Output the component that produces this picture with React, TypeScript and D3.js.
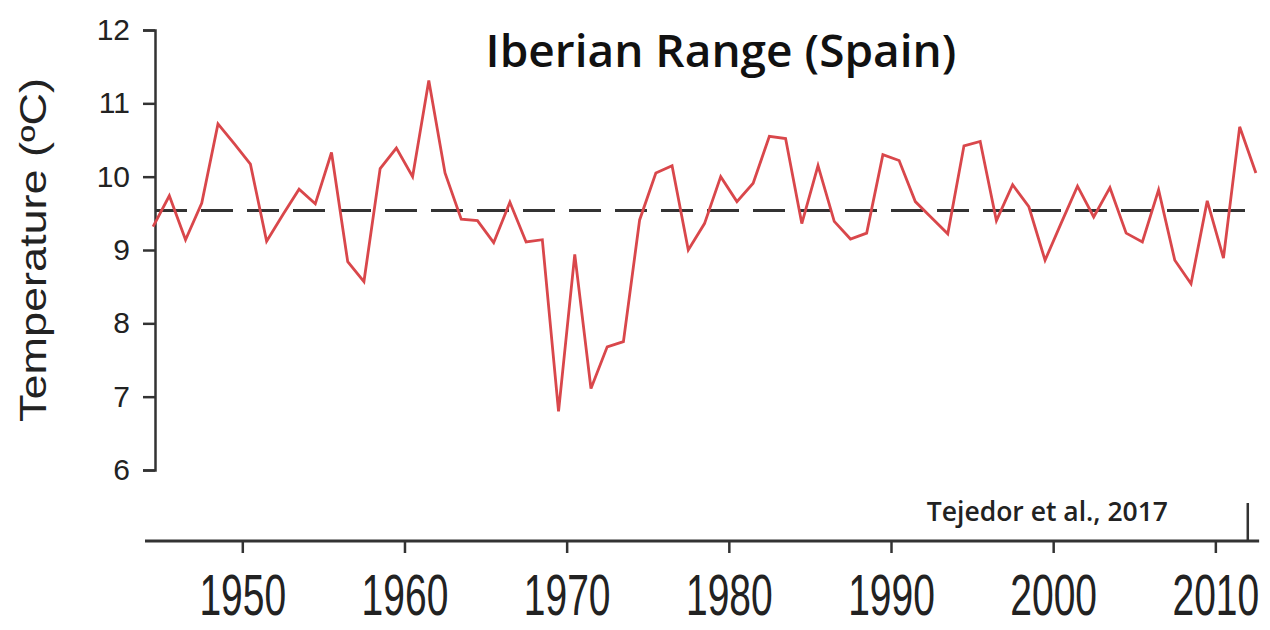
import React, { useEffect, useRef } from "react";
import * as d3 from "d3";

// annual mean temperature, Iberian Range
const years = d3.range(1944, 2013);
const temps = [
  9.32, 9.74, 9.14, 9.64, 10.72, 10.45, 10.17, 9.12, 9.48, 9.83, 9.63, 10.33,
  8.84, 8.57, 10.11, 10.39, 10.0, 11.31, 10.05, 9.42, 9.4, 9.1, 9.65, 9.11,
  9.14, 6.8, 8.94, 7.11, 7.68, 7.75, 9.41, 10.05, 10.15, 9.0, 9.36, 10.0,
  9.66, 9.91, 10.55, 10.52, 9.36, 10.15, 9.39, 9.15, 9.23, 10.3, 10.22, 9.66,
  9.44, 9.22, 10.42, 10.48, 9.4, 9.89, 9.59, 8.86, 9.37, 9.87, 9.45, 9.85,
  9.23, 9.11, 9.82, 8.86, 8.54, 9.67, 8.89, 10.68, 10.05,
];
const meanTemp = 9.54;
const yTicks = [6, 7, 8, 9, 10, 11, 12];
const xTicks = [1950, 1960, 1970, 1980, 1990, 2000, 2010];
const title = "Iberian Range (Spain)";
const yLabel = "Temperature (ºC)";
const source = "Tejedor et al., 2017";

const W = 1270;
const H = 630;

const App = () => {
  const ref = useRef<SVGSVGElement>(null);

  useEffect(() => {
    const svg = d3.select(ref.current);
    svg.selectAll("*").remove();

    const x = d3.scaleLinear().domain([1944, 2013]).range([145, 1264]);
    const y = d3.scaleLinear().domain([6, 12]).range([470, 30]);
    const axisX = 155;
    const axisColor = "#333";
    const num = "'Liberation Sans', Arial, sans-serif";
    const sans = "'Open Sans', 'Noto Sans', sans-serif";

    // left axis
    const yAxis = d3
      .axisLeft(y)
      .tickValues(yTicks)
      .tickFormat(d3.format("d"))
      .tickSize(12)
      .tickSizeOuter(12);
    const gy = svg.append("g").attr("transform", `translate(${axisX},0)`).call(yAxis);
    gy.select(".domain").attr("stroke", axisColor).attr("stroke-width", 2.5);
    gy.selectAll(".tick line").attr("stroke", axisColor).attr("stroke-width", 2.5);
    gy.selectAll(".tick text")
      .attr("x", -25)
      .attr("fill", "#222")
      .attr("font-family", num)
      .attr("font-size", 30);

    svg
      .append("text")
      .attr("transform", `translate(46,${y(9)}) rotate(-90) scale(1.25,1)`)
      .attr("text-anchor", "middle")
      .attr("font-family", num)
      .attr("font-size", 36)
      .attr("fill", "#222")
      .text(yLabel);

    // mean line
    svg
      .append("line")
      .attr("x1", axisX)
      .attr("x2", x(2012.6))
      .attr("y1", y(meanTemp))
      .attr("y2", y(meanTemp))
      .attr("stroke", "#333")
      .attr("stroke-width", 3)
      .attr("stroke-dasharray", "32 14");

    const line = d3
      .line<number>()
      .x((d, i) => x(years[i] + 0.5))
      .y(d => y(d));

    svg
      .append("path")
      .datum(temps)
      .attr("d", line)
      .attr("fill", "none")
      .attr("stroke", "#d9474b")
      .attr("stroke-width", 2.8)
      .attr("stroke-linejoin", "miter");

    svg
      .append("text")
      .attr("x", 721)
      .attr("y", 67)
      .attr("text-anchor", "middle")
      .attr("font-family", sans)
      .attr("font-weight", 600)
      .attr("font-size", 46)
      .attr("fill", "#111")
      .text(title);

    // bottom time axis
    const axisY = 541;
    const xAxis = d3
      .axisBottom(x)
      .tickValues(xTicks)
      .tickFormat(d3.format("d"))
      .tickSize(12)
      .tickSizeOuter(0);
    const gx = svg.append("g").attr("transform", `translate(0,${axisY})`).call(xAxis);
    gx.select(".domain").remove();
    gx.selectAll(".tick line").attr("stroke", axisColor).attr("stroke-width", 2.5);
    gx.selectAll(".tick text")
      .attr("y", 0)
      .attr("dy", 0)
      .attr("font-family", num)
      .attr("font-size", 39)
      .attr("fill", "#222")
      .attr("transform", "translate(0,74) scale(1,1.45)");

    svg
      .append("line")
      .attr("x1", x(1944))
      .attr("x2", x(2012.7))
      .attr("y1", axisY)
      .attr("y2", axisY)
      .attr("stroke", axisColor)
      .attr("stroke-width", 3);

    svg
      .append("line")
      .attr("x1", x(2012))
      .attr("x2", x(2012))
      .attr("y1", axisY)
      .attr("y2", axisY - 38)
      .attr("stroke", axisColor)
      .attr("stroke-width", 2.5);

    svg
      .append("text")
      .attr("x", 1168)
      .attr("y", 521)
      .attr("text-anchor", "end")
      .attr("font-family", sans)
      .attr("font-weight", 600)
      .attr("font-size", 26.5)
      .attr("fill", "#222")
      .text(source);
  }, []);

  return (
    <svg
      ref={ref}
      width={W}
      height={H}
      style={{ position: "absolute", left: 0, top: 0, background: "#fff" }}
    ></svg>
  );
};

export default App;
